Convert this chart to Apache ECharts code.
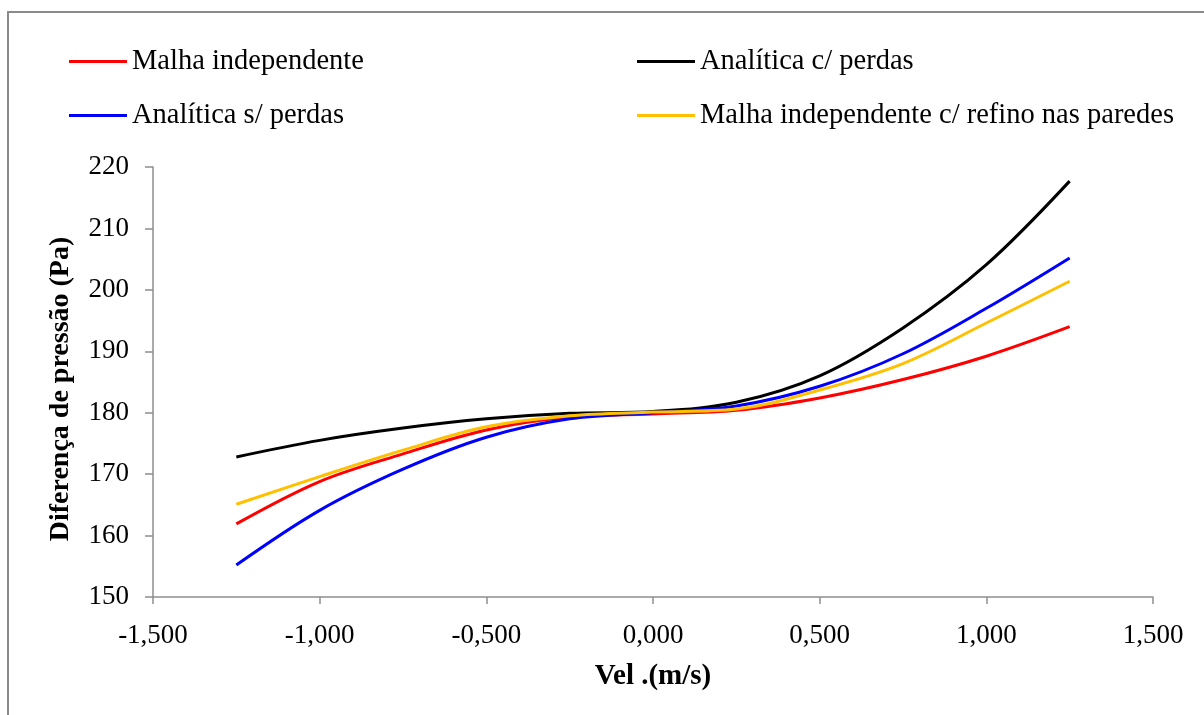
<!DOCTYPE html>
<html>
<head>
<meta charset="utf-8">
<script src="https://cdn.jsdelivr.net/npm/echarts@6/dist/echarts.min.js"></script>
<style>
  html, body { margin: 0; padding: 0; background: #ffffff; }
  #chart { width: 1204px; height: 715px; }
</style>
</head>
<body>
<div id="chart"></div>
<script>
// Velocidade (m/s) nos pontos calculados
const velocidades = [-1.25, -1.0, -0.75, -0.5, -0.25, 0, 0.25, 0.5, 0.75, 1.0, 1.25];

// Diferença de pressão (Pa) para cada caso
const malhaIndependente = [161.9, 168.8, 173.3, 177.2, 179.3, 179.8, 180.4, 182.4, 185.4, 189.2, 194.0];
const analiticaComPerdas = [172.8, 175.5, 177.5, 179.0, 179.9, 180.2, 181.7, 186.0, 193.8, 204.1, 217.7];
const analiticaSemPerdas = [155.2, 164.1, 170.8, 176.0, 179.0, 180.0, 181.1, 184.3, 189.6, 197.0, 205.2];
const malhaRefino = [165.1, 169.6, 173.9, 177.7, 179.5, 180.1, 180.6, 183.7, 188.0, 194.6, 201.4];

const nomes = {
  malha: 'Malha independente',
  comPerdas: 'Analítica c/ perdas',
  semPerdas: 'Analítica s/ perdas',
  refino: 'Malha independente c/ refino nas paredes'
};

const FONT = '"Liberation Serif", "Times New Roman", serif';
const AXIS_GRAY = '#8e8e8e';

function pares(ys) {
  return velocidades.map((v, i) => [v, ys[i]]);
}

function serie(nome, cor, ys) {
  return {
    name: nome,
    type: 'line',
    data: pares(ys),
    smooth: 0.35,
    showSymbol: false,
    symbol: 'none',
    lineStyle: { color: cor, width: 3 },
    itemStyle: { color: cor },
    emphasis: { disabled: true }
  };
}

const legendaBase = {
  orient: 'vertical',
  icon: 'rect',
  padding: 0,
  itemWidth: 58,
  itemHeight: 3,
  itemGap: 25,
  textStyle: { fontFamily: FONT, fontSize: 28.5, color: '#000', lineHeight: 26 },
  selectedMode: false
};

const chart = echarts.init(document.getElementById('chart'), null, { renderer: 'canvas' });

chart.setOption({
  animation: false,
  backgroundColor: '#ffffff',
  graphic: [{
    type: 'rect',
    shape: { x: 8, y: 12, width: 1300, height: 800 },
    style: { fill: 'none', stroke: '#8a8a8a', lineWidth: 2 },
    silent: true
  }],
  legend: [
    Object.assign({}, legendaBase, { left: 69, top: 47, data: [nomes.malha, nomes.semPerdas] }),
    Object.assign({}, legendaBase, { left: 637, top: 47, data: [nomes.comPerdas, nomes.refino] })
  ],
  grid: { left: 153, right: 51, top: 167, bottom: 118, containLabel: false },
  xAxis: {
    type: 'value',
    min: -1.5,
    max: 1.5,
    interval: 0.5,
    name: 'Vel .(m/s)',
    nameLocation: 'middle',
    nameGap: 65,
    nameTextStyle: { fontFamily: FONT, fontSize: 29, fontWeight: 'bold', color: '#000' },
    axisLine: { show: true, onZero: false, lineStyle: { color: AXIS_GRAY, width: 1.5 } },
    axisTick: { show: true, length: 7, lineStyle: { color: AXIS_GRAY, width: 1.5 } },
    splitLine: { show: false },
    axisLabel: {
      fontFamily: FONT, fontSize: 27, color: '#000', margin: 25,
      formatter: v => v.toFixed(3).replace('.', ',')
    }
  },
  yAxis: {
    type: 'value',
    min: 150,
    max: 220,
    interval: 10,
    name: 'Diferença de pressão (Pa)',
    nameLocation: 'middle',
    nameRotate: 90,
    nameGap: 78,
    nameTextStyle: {
      fontFamily: FONT, fontSize: 28, fontWeight: 'bold', color: '#000',
      padding: [0, 14, 0, 0]
    },
    axisLine: { show: true, onZero: false, lineStyle: { color: AXIS_GRAY, width: 1.5 } },
    axisTick: { show: true, length: 8, lineStyle: { color: AXIS_GRAY, width: 1.5 } },
    splitLine: { show: false },
    axisLabel: { fontFamily: FONT, fontSize: 27, color: '#000', margin: 24 }
  },
  series: [
    serie(nomes.malha, '#ff0000', malhaIndependente),
    serie(nomes.comPerdas, '#000000', analiticaComPerdas),
    serie(nomes.semPerdas, '#0000ff', analiticaSemPerdas),
    serie(nomes.refino, '#ffc000', malhaRefino)
  ]
});
</script>
</body>
</html>
